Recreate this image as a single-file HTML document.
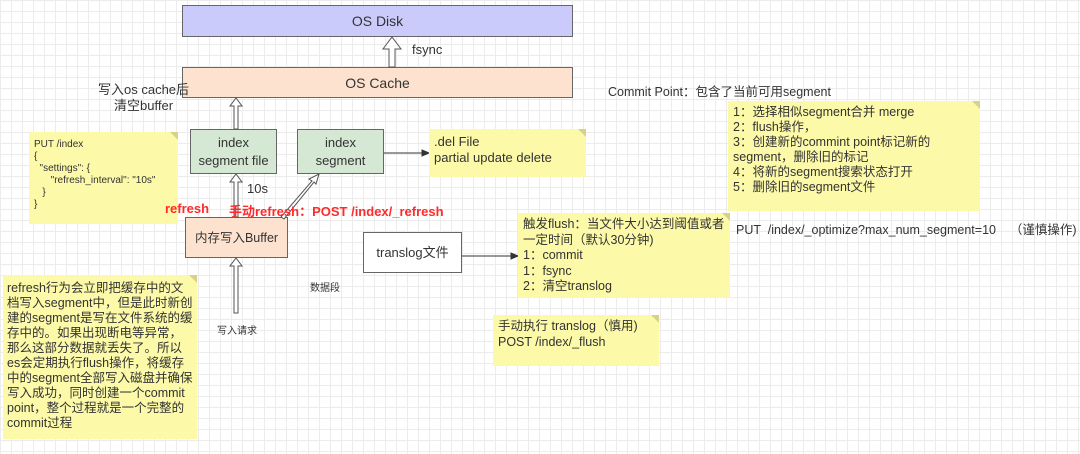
<!DOCTYPE html>
<html><head><meta charset="utf-8"><style>
body{margin:0}
#c{position:relative;width:1080px;height:454px;overflow:hidden;background-color:#fff;
background-image:linear-gradient(#ececec 1px,transparent 1px),linear-gradient(90deg,#ececec 1px,transparent 1px);background-size:11px 11px;
font-family:"Liberation Sans","Noto Sans CJK SC",sans-serif;color:#333;font-size:12.5px}
.a{position:absolute}
.box{position:absolute;box-sizing:border-box;border:1px solid #666;display:flex;align-items:center;justify-content:center;text-align:center;line-height:18px}
.note{position:absolute;box-sizing:border-box;background:#fcf9a8;padding:4px 5px;line-height:16px;font-size:12.5px;color:#333}
.note:after{content:"";position:absolute;right:0;top:0;border-style:solid;border-width:0 8px 8px 0;border-color:transparent #d6d28a transparent transparent}
.red{color:#ff2b2b;font-weight:bold;font-size:13px}
</style></head><body><div id="c">
<div class="box" style="left:182px;top:5px;width:391px;height:32px;background:#cbcbfb;font-size:14px">OS Disk</div>
<div class="box" style="left:182px;top:67px;width:391px;height:31px;background:#fde3cf;font-size:14px">OS Cache</div>
<div class="box" style="left:190px;top:129px;width:87px;height:45px;background:#d5e8d4;font-size:13px">index<br>segment file</div>
<div class="box" style="left:297px;top:129px;width:87px;height:45px;background:#d5e8d4;font-size:13px">index<br>segment</div>
<div class="box" style="left:185px;top:217px;width:103px;height:41px;background:#fde3cf;font-size:12.5px">内存写入Buffer</div>
<div class="box" style="left:363px;top:232px;width:99px;height:41px;background:#fff;font-size:13px">translog文件</div>
<svg class="a" style="left:0;top:0" width="1080" height="454">
<g fill="#fff" stroke="#555" stroke-width="1">
<polygon points="389,67 389,49 383,49 392,37 401,49 395,49 395,67"/>
<polygon points="234,129 234,106 230,106 236,98 242,106 238,106 238,129"/>
<polygon points="234,217 234,182 230,182 236,174 242,182 238,182 238,217"/>
<polygon points="234,313 234,266 230,266 236,258 242,266 238,266 238,313"/>
<polygon points="281,217 312,181 309,179 319,174 316,184 314,182 284,219"/>
</g>
<g stroke="#333" fill="#333">
<line x1="384" y1="153" x2="424" y2="153"/><polygon points="429,153 422,150 422,156"/>
<line x1="462" y1="256" x2="512" y2="256"/><polygon points="518,256 511,253 511,259"/>
</g>
</svg>
<div class="a" style="left:412px;top:42px;font-size:13px">fsync</div>
<div class="a" style="left:98px;top:82px;font-size:13px;line-height:16px;text-align:center">写入os cache后<br>清空buffer</div>
<div class="note" style="left:29px;top:132px;width:149px;height:92px;font-size:10px;line-height:12px;padding-top:7px">PUT /index<br>{<br>&nbsp;&nbsp;"settings": {<br>&nbsp;&nbsp;&nbsp;&nbsp;&nbsp;&nbsp;"refresh_interval": "10s"<br>&nbsp;&nbsp;&nbsp;}<br>}</div>
<div class="note" style="left:429px;top:129px;width:157px;height:48px;font-size:13px;padding:5px">.del File<br>partial update delete</div>
<div class="a" style="left:247px;top:181px;font-size:13px">10s</div>
<div class="a red" style="left:165px;top:201px">refresh</div>
<div class="a red" style="left:229px;top:201px">手动refresh：POST /index/_refresh</div>
<div class="a" style="left:310px;top:279px;font-size:10px">数据段</div>
<div class="a" style="left:217px;top:322px;font-size:10px">写入请求</div>
<div class="note" style="left:3px;top:275px;width:194px;height:164px;font-size:12.5px;line-height:15px;padding:6px 4px">refresh行为会立即把缓存中的文档写入segment中，但是此时新创建的segment是写在文件系统的缓存中的。如果出现断电等异常，那么这部分数据就丢失了。所以es会定期执行flush操作，将缓存中的segment全部写入磁盘并确保写入成功，同时创建一个commit point，整个过程就是一个完整的commit过程</div>
<div class="a" style="left:608px;top:81px;font-size:12.5px">Commit Point：包含了当前可用segment</div>
<div class="note" style="left:728px;top:101px;width:252px;height:110px;line-height:15px">1：选择相似segment合并 merge<br>2：flush操作，<br>3：创建新的commint point标记新的segment，删除旧的标记<br>4：将新的segment搜索状态打开<br>5：删除旧的segment文件</div>
<div class="note" style="left:518px;top:213px;width:212px;height:85px;line-height:15.5px">触发flush：当文件大小达到阈值或者一定时间（默认30分钟)<br>1：commit<br>1：fsync<br>2：清空translog</div>
<div class="a" style="left:736px;top:219px;font-size:12.5px;white-space:nowrap">PUT &nbsp;/index/_optimize?max_num_segment=10 &nbsp;&nbsp;&nbsp;（谨慎操作)</div>
<div class="note" style="left:493px;top:315px;width:166px;height:51px;line-height:15.5px">手动执行 translog（慎用)<br>POST /index/_flush</div>
</div></body></html>
